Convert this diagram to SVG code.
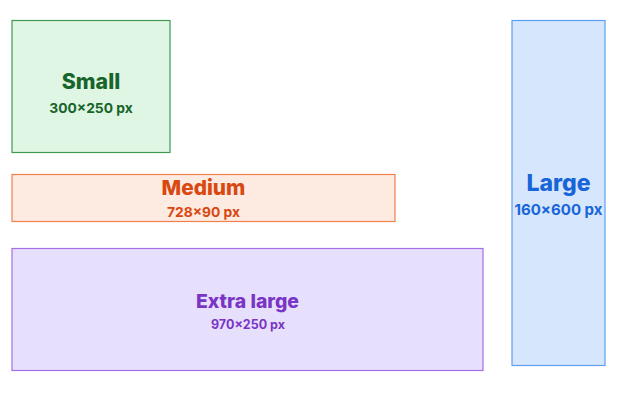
<svg xmlns="http://www.w3.org/2000/svg" width="623" height="400" viewBox="0 0 623 400">
<style>
.t{font-family:Inter,"Liberation Sans",sans-serif;font-weight:800;text-anchor:middle}
.s{font-family:Inter,"Liberation Sans",sans-serif;font-weight:700;text-anchor:middle}
rect{stroke-width:1.2}
</style>
<rect width="623" height="400" fill="#ffffff"/>
<g id="small">
<rect x="12" y="20.5" width="158" height="132" fill="#e0f6e5" stroke="#3f9a4f"/>
<text class="t" x="91" y="89" font-size="21.3" fill="#17652a">Small</text>
<text class="s" x="91" y="113" font-size="13.8" fill="#17652a">300×250 px</text>
</g>
<g id="medium">
<rect x="12" y="174.5" width="383" height="47" fill="#fdeae1" stroke="#f1804d"/>
<text class="t" x="203.5" y="194.5" font-size="20.8" fill="#d9480f">Medium</text>
<text class="s" x="203.5" y="217" font-size="13.8" fill="#d9480f">728×90 px</text>
</g>
<g id="extra-large">
<rect x="12" y="248.5" width="471" height="122" fill="#e6e0fc" stroke="#a66ee3"/>
<text class="t" x="247.5" y="308" font-size="19.4" fill="#7a34c6">Extra large</text>
<text class="s" x="248" y="329" font-size="12.5" fill="#7a34c6">970×250 px</text>
</g>
<g id="large">
<rect x="512" y="20.5" width="93" height="345" fill="#d6e6fc" stroke="#5c9ef2"/>
<text class="t" x="558.5" y="191" font-size="23" fill="#1765d8">Large</text>
<text class="s" x="558.5" y="215" font-size="15" fill="#1765d8">160×600 px</text>
</g>
<g id="connectors"></g>
</svg>
